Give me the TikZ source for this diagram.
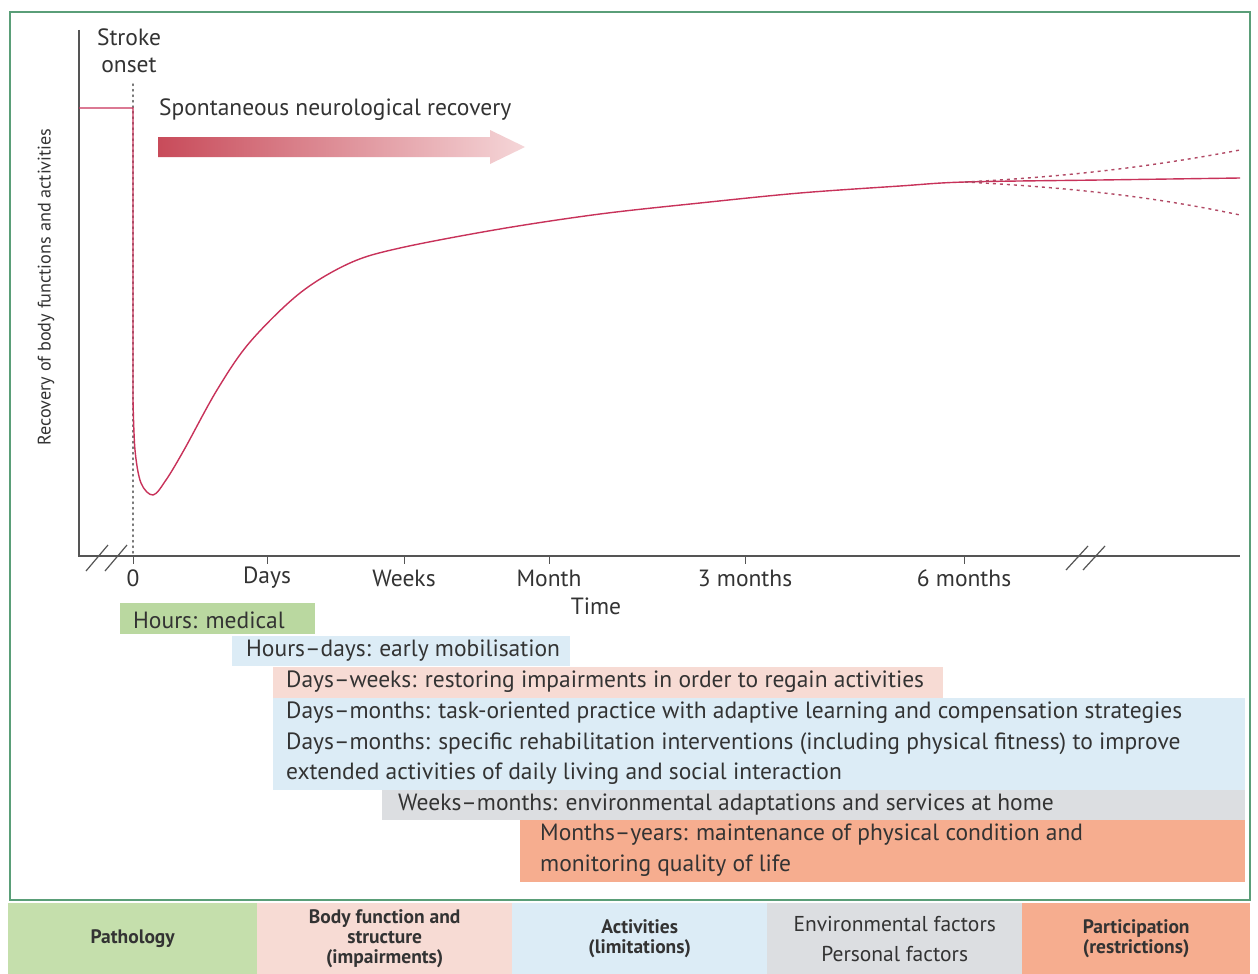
\documentclass[tikz,border=0pt]{standalone}
\usepackage{fontspec}
\setmainfont{PT Sans}
\definecolor{frameg}{HTML}{5A9E78}
\definecolor{curve}{HTML}{C8325A}
\definecolor{axisc}{HTML}{555555}
\definecolor{txt}{HTML}{333333}
\definecolor{cgreen}{HTML}{BAD8A0}
\definecolor{cgreenb}{HTML}{C5DFAC}
\definecolor{cblue}{HTML}{DCECF6}
\definecolor{cpink}{HTML}{F7DBD4}
\definecolor{cgrey}{HTML}{DCDEE1}
\definecolor{corange}{HTML}{F6AD8F}
\definecolor{arrdark}{HTML}{C84B5A}
\definecolor{arrlight}{HTML}{F5D6D8}
\tikzset{
  lbl/.style={font=\fontsize{23.5}{26}\selectfont, text=txt, inner sep=0pt},
  rowtxt/.style={font=\fontsize{23.5}{26}\selectfont, text=txt, anchor=west, inner sep=0pt},
  col/.style={minimum height=71pt, inner sep=0pt, align=center, text=txt,
              font=\fontsize{19.5}{20}\selectfont\bfseries},
  brk/.style={axisc, line width=1.2pt},
  tick/.style={axisc, line width=1pt},
}
\begin{document}
\begin{tikzpicture}[x=1pt,y=-1pt]
\useasboundingbox (0,0) rectangle (1258,974);
\fill[white] (0,0) rectangle (1258,974);
% frame
\draw[frameg, line width=2pt] (10,12) rectangle (1250,900);
% bottom strip
\node[col, fill=cgreenb, minimum width=249pt, anchor=north west] (path) at (8,903) {Pathology};
\node[col, fill=cpink, minimum width=255pt, anchor=north west] (body) at (257,903) {Body function and\\structure\\(impairments)};
\node[col, fill=cblue, minimum width=255pt, anchor=north west] (act) at (512,903) {Activities\\(limitations)};
\node[col, fill=cgrey, minimum width=255pt, anchor=north west, font=\fontsize{21.5}{30}\selectfont] (env) at (767,903) {Environmental factors\\Personal factors};
\node[col, fill=corange, minimum width=228pt, anchor=north west] (part) at (1022,903) {Participation\\(restrictions)};
% bars
\fill[cgreen] (120,603) rectangle (315,634);
\fill[cblue] (232,636) rectangle (570,666);
\fill[cpink] (273,667) rectangle (943,698);
\fill[cblue] (273,698) rectangle (1245,790);
\fill[cgrey] (382,790) rectangle (1245,820);
\fill[corange] (520,820) rectangle (1245,882);
\node[rowtxt] (r1) at (133,620) {Hours: medical};
\node[rowtxt] (r2) at (246,651) {Hours–days: early mobilisation};
\node[rowtxt] (r3) at (286,682) {Days–weeks: restoring impairments in order to regain activities};
\node[rowtxt] (r4) at (286,713) {Days–months: task-oriented practice with adaptive learning and compensation strategies};
\node[rowtxt] (r5) at (286,744) {Days–months: specific rehabilitation interventions (including physical fitness) to improve};
\node[rowtxt] (r6) at (286,774) {extended activities of daily living and social interaction};
\node[rowtxt] (r7) at (398,805) {Weeks–months: environmental adaptations and services at home};
\node[rowtxt] (r8) at (540,835) {Months–years: maintenance of physical condition and};
\node[rowtxt] (r9) at (540,866) {monitoring quality of life};
% axes
\coordinate (ytop) at (79,30);
\coordinate (orig) at (79,556);
\coordinate (xend) at (1240,556);
\draw[axisc, line width=1.2pt] (ytop) -- (orig) -- (xend);
\draw[brk] (86,571) -- (108,545);
\draw[brk] (105,571) -- (127,545);
\draw[brk] (1066,570) -- (1088,546);
\draw[brk] (1083,570) -- (1105,546);
\foreach \x/\n in {133/t0,267/t1,404/t2,549/t3,745/t4,964/t5}{
  \draw[tick] (\x,556) -- (\x,564);
  \coordinate (\n) at (\x,578);
}
\node[lbl] (l0) at (t0) {0};
\node[lbl] (l1) at (t1) {Days};
\node[lbl] (l2) at (t2) {Weeks};
\node[lbl] (l3) at (t3) {Month};
\node[lbl] (l4) at (t4) {3 months};
\node[lbl] (l5) at (t5) {6 months};
\node[lbl] (time) at (596,606) {Time};
\node[lbl, rotate=90, font=\fontsize{18.2}{20}\selectfont] (ylab) at (46,287) {Recovery of body functions and activities};
\node[lbl, align=center, font=\fontsize{23.5}{27}\selectfont] (onset) at (129,51) {Stroke\\onset};
% onset dotted line
\draw[axisc!80, line width=1.4pt, dash pattern=on 1.5pt off 4pt, line cap=round] (133,84) -- (133,556);
% curve
\draw[curve, line width=1.4pt] (79,108) -- (133,108) -- (133,400)
  plot[smooth, tension=0.55] coordinates {(133,400) (135,450) (141,483) (153,495) (166,480) (184,450) (217,390) (250,342) (300,293) (350,263) (400,248) (500,229) (600,214) (700,203) (800,193) (900,186) (965,182) (1100,180) (1240,178)};
\draw[curve!70!gray, line width=1.4pt, dash pattern=on 3pt off 4pt]
  (965,182) .. controls (1080,176) and (1160,165) .. (1240,150);
\draw[curve!70!gray, line width=1.4pt, dash pattern=on 3pt off 4pt]
  (965,182) .. controls (1080,188) and (1160,198) .. (1240,215);
% spontaneous recovery arrow
\node[lbl, anchor=west] (spont) at (159,110) {Spontaneous neurological recovery};
\shade[left color=arrdark, right color=arrlight]
  (158,137) -- (490,137) -- (490,130) -- (525,147) -- (490,164) -- (490,157) -- (158,157) -- cycle;
\end{tikzpicture}
\end{document}
